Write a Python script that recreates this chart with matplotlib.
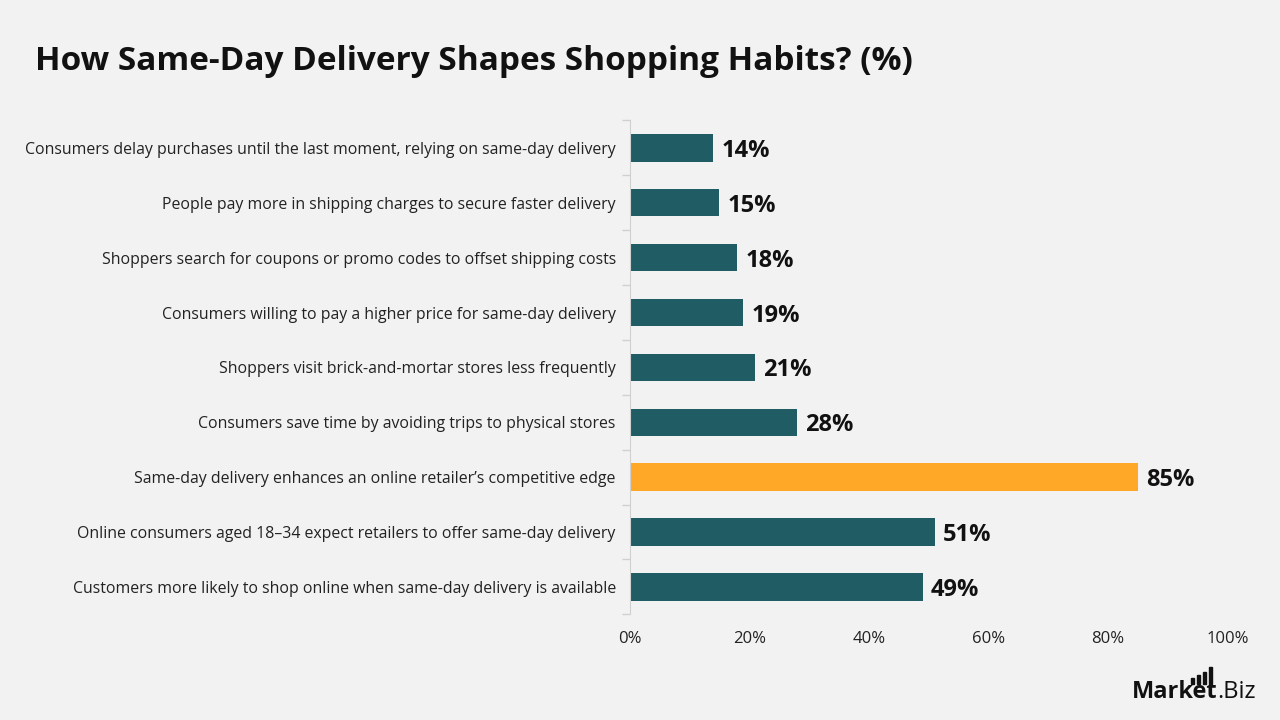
import matplotlib.pyplot as plt
from matplotlib.patches import Rectangle

categories = [
    "Consumers delay purchases until the last moment, relying on same-day delivery",
    "People pay more in shipping charges to secure faster delivery",
    "Shoppers search for coupons or promo codes to offset shipping costs",
    "Consumers willing to pay a higher price for same-day delivery",
    "Shoppers visit brick-and-mortar stores less frequently",
    "Consumers save time by avoiding trips to physical stores",
    "Same-day delivery enhances an online retailer\u2019s competitive edge",
    "Online consumers aged 18\u201334 expect retailers to offer same-day delivery",
    "Customers more likely to shop online when same-day delivery is available",
]
values = [14, 15, 18, 19, 21, 28, 85, 51, 49]
highlight = 85
x_ticks = [0, 20, 40, 60, 80, 100]
x_labels = ["0%", "20%", "40%", "60%", "80%", "100%"]

bg = "#f2f2f2"
teal = "#1f5c63"
orange = "#ffa726"

plt.rcParams['font.family'] = ['Open Sans', 'DejaVu Sans']

fig = plt.figure(figsize=(12.8, 7.2), dpi=100, facecolor=bg)
ax = fig.add_axes([0.492, 0.1467, 0.467, 0.686], facecolor=bg)

pos = list(range(len(categories)))
colors = [orange if v == highlight else teal for v in values]
ax.barh(pos, values, height=0.5, color=colors)
for p, v in zip(pos, values):
    ax.text(v + 1.3, p, str(v) + "%", va="center_baseline", ha="left",
            fontsize=17, fontweight="bold", color="#111111")

ax.set_xlim(0, 100)
ax.set_ylim(len(categories) - 0.5, -0.5)
ax.set_yticks(pos)
ax.set_yticklabels(categories, fontsize=11.4, color="#222222")
ax.set_yticks([p - 0.5 for p in pos] + [len(pos) - 0.5], minor=True)
ax.tick_params(axis="y", which="major", length=0, pad=10)
ax.tick_params(axis="y", which="minor", length=6, color="#d0d0d0", width=1)
ax.set_xticks(x_ticks)
ax.set_xticklabels(x_labels, fontsize=12, color="#222222")
ax.tick_params(axis="x", length=0, pad=12)

for s in ["top", "right", "bottom"]:
    ax.spines[s].set_visible(False)
ax.spines["left"].set_color("#d0d0d0")

fig.text(0.027, 0.915, "How Same-Day Delivery Shapes Shopping Habits? (%)",
         fontsize=24, fontweight="bold", color="#111111", ha="left", va="center")

# logo
logo = fig.text(0.884, 0.022, "Market", fontsize=17, fontweight="bold",
                color="#111111", ha="left", va="bottom")
ax.annotate(".Biz", xy=(1, 0), xycoords=logo, fontsize=17, color="#111111",
            ha="left", va="bottom", annotation_clip=False)
for i, h in enumerate([6, 9, 12, 17]):
    fig.add_artist(Rectangle(((1191 + i * 6) / 1280, (720 - 684) / 720),
                             3 / 1280, h / 720,
                             transform=fig.transFigure, color="#111111"))

fig.savefig("out.png", dpi=100, facecolor=bg)
